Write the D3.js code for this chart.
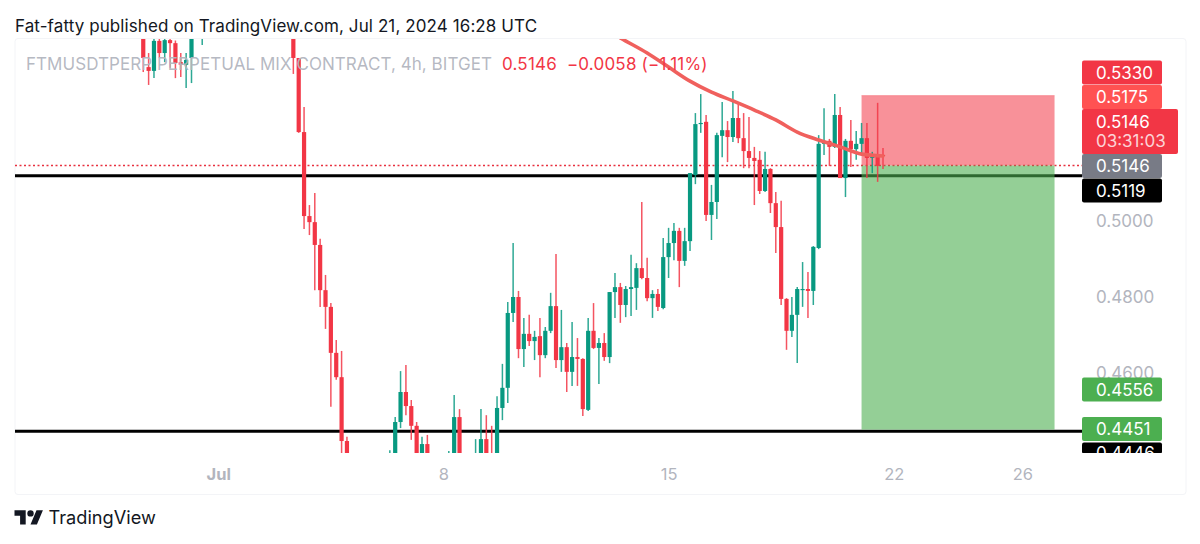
<!DOCTYPE html>
<html><head><meta charset="utf-8">
<script src="https://cdnjs.cloudflare.com/ajax/libs/d3/7.8.5/d3.min.js"></script>
<style>html,body{margin:0;padding:0;background:#fff}svg{display:block}text{font-family:Inter,"Noto Sans",sans-serif}</style>
</head><body><svg id="c" width="1200" height="544"></svg>
<script>
// 4h bar number counted from Jul 1 00:00
const barIndex = [
 -14,-13,-12,-11,-10,-9,-8,-7,-6,-5,-3,
 14,15,16,17,18,19,20,21,22,23,24,
 32,33,34,35,36,37,38,39,
 43,44,45,48,49,50,51,
 52,53,54,55,56,57,58,59,60,61,62,63,64,65,66,67,68,69,70,71,72,73,74,75,76,77,78,79,80,81,82,83,84,85,86,87,88,
 89,90,91,92,93,94,95,96,97,98,99,100,101,102,103,104,105,106,107,108,109,110,111,112,113,114,115,116,117,118,119,120,121,122,123,124];
const opens = [
 .5503,.5405,.5395,.5474,.5442,.5476,.5468,.5418,.5411,.5429,.5490,
 .5520,.5429,.5234,.5013,.4997,.4937,.4818,.4774,.4653,.4589,.4421,
 .4360,.4360,.4471,.4550,.4513,.4461,.4370,.4413,
 .4370,.4370,.4484,.4370,.4370,.4426,.4385,
 .4370,.4508,.4561,.4758,.4800,.4663,.4703,.4684,.4697,.4647,.4711,.4776,.4634,.4668,.4603,.4642,.4637,.4503,.4711,.4666,.4679,.4642,.4813,.4826,.4779,.4821,.4824,.4876,.4850,.4797,.4808,.4771,.4905,.4942,.4974,.4895,.4947,
 .5121,.5255,.5261,.5016,.5050,.5224,.5239,.5221,.5271,.5218,.5184,.5166,.5161,.5079,.5137,.5047,.4984,.4795,.4711,.4753,.4818,.4821,.4816,.4929,.5203,.5211,.5195,.5279,.5113,.5211,.5189,.5203,.5218,.5166,.5174,.5174];
const highs = [
 .5510,.5442,.5482,.5482,.5482,.5482,.5475,.5442,.5442,.5500,.5520,
 .5530,.5429,.5300,.5042,.5074,.4953,.4858,.4784,.4687,.4658,.4432,
 .4397,.4484,.4605,.4621,.4529,.4471,.4432,.4437,
 .4395,.4542,.4505,.4426,.4505,.4489,.4461,
 .4539,.4624,.4787,.4942,.4816,.4745,.4753,.4711,.4745,.4721,.4811,.4913,.4766,.4679,.4734,.4692,.4639,.4745,.4784,.4692,.4705,.4813,.4863,.4837,.4829,.4911,.4889,.5050,.4903,.4818,.4821,.4955,.4982,.4995,.4982,.4982,.5126,
 .5284,.5334,.5279,.5095,.5232,.5313,.5263,.5342,.5308,.5284,.5274,.5195,.5184,.5182,.5139,.5076,.5053,.4797,.4800,.4826,.4892,.4866,.4934,.5226,.5297,.5216,.5334,.5300,.5216,.5266,.5237,.5258,.5258,.5182,.5311,.5192];
const lows = [
 .5392,.5358,.5376,.5429,.5418,.5403,.5376,.5379,.5350,.5363,.5463,
 .5387,.5232,.4979,.4963,.4818,.4774,.4716,.4511,.4582,.4371,.4330,
 .4350,.4350,.4455,.4489,.4424,.4360,.4360,.4360,
 .4360,.4360,.4360,.4360,.4360,.4360,.4360,
 .4360,.4476,.4521,.4734,.4639,.4616,.4671,.4634,.4589,.4639,.4705,.4613,.4603,.4550,.4566,.4566,.4487,.4500,.4663,.4571,.4632,.4626,.4745,.4732,.4747,.4750,.4766,.4847,.4789,.4745,.4763,.4768,.4850,.4897,.4826,.4882,.4921,
 .5097,.5232,.5000,.4950,.5005,.5168,.5155,.5208,.5205,.5139,.5139,.5042,.5071,.5076,.5021,.4916,.4779,.4661,.4695,.4626,.4774,.4745,.4779,.4926,.5174,.5145,.5192,.5113,.5063,.5142,.5161,.5174,.5113,.5126,.5103,.5137];
const closes = [
 .5429,.5395,.5474,.5442,.5476,.5468,.5416,.5411,.5424,.5490,.5510,
 .5429,.5234,.5013,.4997,.4937,.4818,.4774,.4653,.4589,.4421,.4345,
 .4380,.4471,.4550,.4513,.4461,.4370,.4413,.4370,
 .4385,.4484,.4370,.4385,.4426,.4370,.4370,
 .4508,.4561,.4758,.4800,.4663,.4703,.4684,.4695,.4647,.4711,.4776,.4634,.4668,.4603,.4642,.4637,.4505,.4711,.4666,.4679,.4642,.4813,.4826,.4779,.4821,.4826,.4876,.4850,.4797,.4808,.4774,.4905,.4942,.4974,.4895,.4947,.5126,
 .5255,.5258,.5016,.5050,.5226,.5239,.5221,.5271,.5218,.5184,.5166,.5158,.5079,.5137,.5047,.4984,.4795,.4711,.4753,.4821,.4821,.4816,.4932,.5203,.5211,.5195,.5279,.5113,.5211,.5189,.5203,.5218,.5166,.5174,.5145,.5171];

// moving average
const maBars = [72,75,80,84,88,92,96,100,104,108,112,116,120,124];
const maValues = [.5508,.5482,.5442,.5405,.5368,.5339,.5316,.5292,.5266,.5234,.5213,.5195,.5176,.5171];

// short position tool and horizontal lines
const positionBars = [120,156];
const stopPrice = .5330, entryPrice = .5146, targetPrice = .4451;
const levelPrices = [.5119,.4447];
const lastPrice = .5146;

const priceTicks = [.5,.48,.46];
const dayTicks = [0,7,14,21,25];
const dayLabels = ["Jul","8","15","22","26"];

const titleText = "Fat-fatty published on TradingView.com, Jul 21, 2024 16:28 UTC";
const symbolText = "FTMUSDTPERP PERPETUAL MIX CONTRACT, 4h, BITGET";
const quoteText = "0.5146  \u22120.0058 (\u22121.11%)";

const tagLabels = ["0.5330","0.5175","0.5146","0.5146","0.5119","0.4556","0.4451","0.4446"];
const tagColors = ["#F23645","#FF5252","#F23645","#787B86","#000000","#4CAF50","#4CAF50","#000000"];
const tagTops =   [60.5,85,109,154,178.5,377.5,417,442.5];
const tagHeights= [24,24,45,24,24,24,24,11];

const RED="#F23645", GREEN="#089981", MUTED="#B2B5BE";
const svg=d3.select("#c");
const x=d3.scaleLinear().domain([0,124]).range([218.3,883]);
const y=d3.scaleLinear().domain([.5,.46]).range([221,373]);
const xDay=d3.scaleLinear().domain([0,25]).range([x(0),x(150)]);

svg.append("rect").attr("x",15).attr("y",38.5).attr("width",1171).attr("height",456).attr("rx",3)
  .attr("fill","#fff").attr("stroke","#F3F4F7");
const defs=svg.append("defs");
defs.append("clipPath").attr("id","plot").append("rect").attr("x",15).attr("y",39).attr("width",1067).attr("height",414);
defs.append("clipPath").attr("id","tags").append("rect").attr("x",1082).attr("y",39).attr("width",104).attr("height",414);

const plot=svg.append("g").attr("clip-path","url(#plot)");
plot.selectAll(".level").data(levelPrices).join("line").attr("class","level")
  .attr("x1",15).attr("x2",1082).attr("y1",d=>y(d)).attr("y2",d=>y(d))
  .attr("stroke","#000").attr("stroke-width",3);
plot.append("line").attr("x1",15).attr("x2",1082).attr("y1",y(lastPrice)).attr("y2",y(lastPrice))
  .attr("stroke","#E8303F").attr("stroke-width",1.3).attr("stroke-dasharray","2 2.5");

const px0=x(positionBars[0]), pw=x(positionBars[1])-px0;
plot.append("rect").attr("x",px0).attr("width",pw).attr("y",y(stopPrice)).attr("height",y(entryPrice)-y(stopPrice))
  .attr("fill",RED).attr("fill-opacity",.55);
plot.append("rect").attr("x",px0).attr("width",pw).attr("y",y(entryPrice)).attr("height",y(targetPrice)-y(entryPrice))
  .attr("fill","#4CAF50").attr("fill-opacity",.6);
plot.append("line").attr("x1",px0).attr("x2",px0+pw).attr("y1",y(stopPrice)).attr("y2",y(stopPrice))
  .attr("stroke",RED).attr("stroke-opacity",.35).attr("stroke-width",1);

const candles=barIndex.map((b,i)=>({b,o:opens[i],h:highs[i],l:lows[i],c:closes[i]}));
const col=d=>d.c>=d.o?GREEN:RED;
const g=plot.selectAll(".candle").data(candles).join("g").attr("class","candle");
g.append("line").attr("x1",d=>x(d.b)).attr("x2",d=>x(d.b)).attr("y1",d=>y(d.h)).attr("y2",d=>y(d.l))
  .attr("stroke",col).attr("stroke-width",1.5).attr("stroke-opacity",.85);
g.append("rect").attr("x",d=>x(d.b)-2.1).attr("width",4.2).attr("y",d=>y(Math.max(d.o,d.c)))
  .attr("height",d=>Math.max(1,Math.abs(y(d.o)-y(d.c)))).attr("fill",col);

plot.append("path").datum(d3.zip(maBars,maValues))
  .attr("d",d3.line().x(d=>x(d[0])).y(d=>y(d[1])).curve(d3.curveMonotoneX))
  .attr("fill","none").attr("stroke","#F0605D").attr("stroke-width",3.6).attr("stroke-linecap","round");

// symbol line on top of the candles
svg.append("text").attr("x",26).attr("y",70).attr("font-size",17).attr("letter-spacing",.05).attr("fill",MUTED).attr("fill-opacity",.95).text(symbolText);
svg.append("text").attr("x",502).attr("y",70).attr("font-size",17).attr("letter-spacing",.2).attr("fill",RED).style("white-space","pre").text(quoteText);

// price axis
const yAxis=d3.axisRight(y).tickValues(priceTicks).tickFormat(d3.format(".4f")).tickSize(0).tickPadding(0);
const ya=svg.append("g").attr("transform","translate(1096,0)").call(yAxis);
ya.select(".domain").remove();
ya.selectAll("text").attr("font-size",17).attr("fill",MUTED).attr("font-family","Inter");

// price tags
const tags=svg.append("g").attr("clip-path","url(#tags)");
tagLabels.forEach((t,i)=>{
  const wide=i===2;
  tags.append("rect").attr("x",1082).attr("y",tagTops[i]).attr("width",wide?96:80).attr("height",tagHeights[i]).attr("rx",2).attr("fill",tagColors[i]);
  const cy=i===7?453:(wide?tagTops[i]+12.5:tagTops[i]+tagHeights[i]/2);
  tags.append("text").attr("x",1096).attr("y",cy).attr("dy","0.36em").attr("font-size",17).attr("fill","#fff").text(t);
  if(wide) tags.append("text").attr("x",1096).attr("y",cy+19).attr("dy","0.36em").attr("font-size",17).attr("fill","#fff").attr("fill-opacity",.8).text("03:31:03");
});

// time axis
const xAxis=d3.axisBottom(xDay).tickValues(dayTicks).tickFormat((d,i)=>dayLabels[i]).tickSize(0).tickPadding(0);
const xa=svg.append("g").attr("transform","translate(0,468)").call(xAxis);
xa.select(".domain").remove();
xa.selectAll("text").attr("font-size",16.5).attr("fill",MUTED).attr("font-family","Inter").attr("font-weight",(d,i)=>i===0?700:400);

// title + footer
svg.append("text").attr("x",15).attr("y",32).attr("font-size",17).attr("letter-spacing",.1).attr("fill","#131722").text(titleText);
const logo=svg.append("g").attr("transform","translate(14.5,507) scale(.8)").attr("fill","#131722");
logo.append("path").attr("d","M14 22H7V11H0V4h14v18zM28 22h-8l7.5-18h8L28 22z");
logo.append("circle").attr("cx",20).attr("cy",8).attr("r",4);
svg.append("text").attr("x",48.5).attr("y",524).attr("font-size",18.2).attr("fill","#131722").text("TradingView");
</script></body></html>
